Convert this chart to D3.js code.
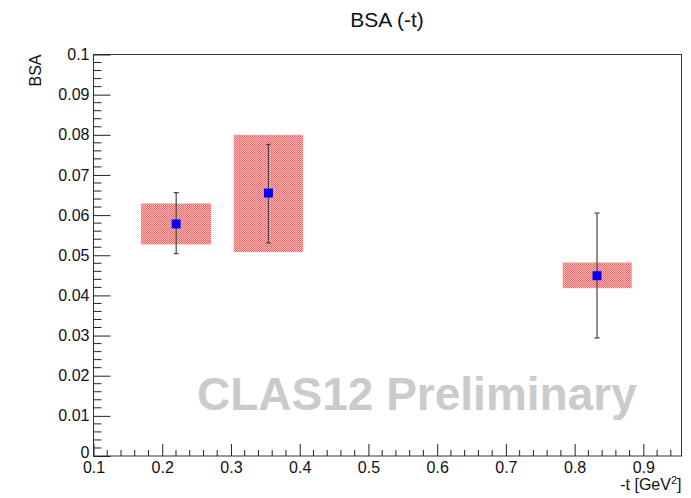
<!DOCTYPE html>
<html>
<head>
<meta charset="utf-8">
<script src="https://cdn.jsdelivr.net/npm/d3@7"></script>
<style>
  html, body { margin: 0; padding: 0; background: #fff; }
  svg { display: block; font-family: "Liberation Sans", Arial, Helvetica, sans-serif; }
</style>
</head>
<body>
<svg id="chart" width="691" height="498"></svg>
<script>
// Beam-spin asymmetry vs -t
const tValues    = [0.2203, 0.3545, 0.8326];   // bin centres, GeV^2
const bsaValues  = [0.0578, 0.0655, 0.0449];   // asymmetry
const statErrHi  = [0.0656, 0.0776, 0.0605];   // upper end of stat. error bar
const statErrLo  = [0.0504, 0.0531, 0.0294];   // lower end of stat. error bar
const sysBoxTLo  = [0.169, 0.304, 0.7826];     // systematic box, -t range
const sysBoxTHi  = [0.271, 0.405, 0.883];
const sysBoxYLo  = [0.0527, 0.0508, 0.0418];   // systematic box, BSA range
const sysBoxYHi  = [0.0629, 0.0800, 0.0482];

const xMajorTicks = [0.1, 0.2, 0.3, 0.4, 0.5, 0.6, 0.7, 0.8, 0.9];
const yMajorTicks = [0, 0.01, 0.02, 0.03, 0.04, 0.05, 0.06, 0.07, 0.08, 0.09, 0.1];
const xDomain = [0.1, 0.9555];
const yDomain = [0, 0.1];

const points = tValues.map((t, i) => ({
  t, bsa: bsaValues[i], hi: statErrHi[i], lo: statErrLo[i],
  bx0: sysBoxTLo[i], bx1: sysBoxTHi[i], by0: sysBoxYLo[i], by1: sysBoxYHi[i]
}));

const svg = d3.select("#chart");
const W = 691, H = 498;
const m = { left: 93.5, right: 9.5, top: 54.5, bottom: 42 };
const x = d3.scaleLinear().domain(xDomain).range([m.left, W - m.right]);
const y = d3.scaleLinear().domain(yDomain).range([H - m.bottom, m.top]);

// dotted fill for the systematic boxes
const defs = svg.append("defs");
const pat = defs.append("pattern").attr("id", "sysfill")
  .attr("patternUnits", "userSpaceOnUse").attr("width", 2).attr("height", 2);
pat.append("rect").attr("width", 2).attr("height", 2).attr("fill", "#ffbcbc");
pat.append("rect").attr("x", 0).attr("y", 0).attr("width", 1).attr("height", 1).attr("fill", "#ff6464");
pat.append("rect").attr("x", 1).attr("y", 1).attr("width", 1).attr("height", 1).attr("fill", "#ff6464");

// watermark
svg.append("text")
  .attr("x", 197).attr("y", 410)
  .attr("font-size", 46).attr("font-weight", "bold")
  .attr("fill", "#cbcbcb")
  .text("CLAS12 Preliminary");

// systematic boxes
svg.append("g").selectAll("rect").data(points).join("rect")
  .attr("x", d => x(d.bx0)).attr("width", d => x(d.bx1) - x(d.bx0))
  .attr("y", d => y(d.by1)).attr("height", d => y(d.by0) - y(d.by1))
  .attr("fill", "url(#sysfill)");

// statistical error bars
const eb = svg.append("g").attr("stroke", "#444").attr("stroke-width", 1.2);
eb.selectAll("line.v").data(points).join("line").attr("class", "v")
  .attr("x1", d => x(d.t)).attr("x2", d => x(d.t))
  .attr("y1", d => y(d.hi)).attr("y2", d => y(d.lo));
eb.selectAll("line.ct").data(points).join("line").attr("class", "ct")
  .attr("x1", d => x(d.t) - 2.5).attr("x2", d => x(d.t) + 2.5)
  .attr("y1", d => y(d.hi)).attr("y2", d => y(d.hi));
eb.selectAll("line.cb").data(points).join("line").attr("class", "cb")
  .attr("x1", d => x(d.t) - 2.5).attr("x2", d => x(d.t) + 2.5)
  .attr("y1", d => y(d.lo)).attr("y2", d => y(d.lo));

// markers
const ms = 9;
svg.append("g").selectAll("rect").data(points).join("rect")
  .attr("x", d => x(d.t) - ms / 2).attr("y", d => y(d.bsa) - ms / 2)
  .attr("width", ms).attr("height", ms).attr("fill", "#0000ff");

// frame
svg.append("rect")
  .attr("x", m.left).attr("y", m.top)
  .attr("width", W - m.right - m.left).attr("height", H - m.bottom - m.top)
  .attr("fill", "none").attr("stroke", "#333").attr("stroke-width", 1);

// x axis: major ticks, minor ticks every 0.02
const xAxis = d3.axisBottom(x).tickValues(xMajorTicks)
  .tickSize(-12).tickPadding(17).tickFormat(d3.format(".1f"));
const gx = svg.append("g").attr("transform", `translate(0,${H - m.bottom})`).call(xAxis);
const xMinor = d3.range(0.1, 0.95, 0.02).filter(v => Math.abs(v * 10 - Math.round(v * 10)) > 1e-6);
gx.selectAll("line.minor").data(xMinor).join("line").attr("class", "minor")
  .attr("x1", d => x(d)).attr("x2", d => x(d)).attr("y1", 0).attr("y2", -6)
  .attr("stroke", "#222");

// y axis: major ticks, minor ticks every 0.002
const yAxis = d3.axisLeft(y).tickValues(yMajorTicks)
  .tickSize(-17).tickPadding(21)
  .tickFormat(d => d === 0 ? "0" : d3.format("~g")(+d.toFixed(2)));
const gy = svg.append("g").attr("transform", `translate(${m.left},0)`).call(yAxis);
const yMinor = d3.range(0, 0.1, 0.002).filter(v => Math.abs(v * 100 - Math.round(v * 100)) > 1e-6);
gy.selectAll("line.minor").data(yMinor).join("line").attr("class", "minor")
  .attr("y1", d => y(d)).attr("y2", d => y(d)).attr("x1", 0).attr("x2", 8)
  .attr("stroke", "#222");

[gx, gy].forEach(g => {
  g.select(".domain").remove();
  g.selectAll(".tick line").attr("stroke", "#222");
  g.selectAll(".tick text").attr("fill", "#111").attr("font-size", 16)
    .attr("font-family", "Liberation Sans, Arial, sans-serif");
});
gx.selectAll(".tick text").attr("dy", "0.71em").attr("y", 6);
gy.selectAll(".tick text").attr("x", -4).attr("dy", "0.32em");
// keep the origin label clear of the first x label
gy.selectAll(".tick text").filter(d => d === 0).attr("dy", "0.12em");

// title and axis titles
svg.append("text").attr("x", 387).attr("y", 27).attr("text-anchor", "middle")
  .attr("font-size", 21).attr("fill", "#111").text("BSA (-t)");

svg.append("text")
  .attr("transform", `translate(41,${m.top}) rotate(-90)`)
  .attr("text-anchor", "end").attr("font-size", 16).attr("fill", "#111").text("BSA");

const xl = svg.append("text").attr("x", W - m.right).attr("y", 490)
  .attr("text-anchor", "end").attr("font-size", 16).attr("fill", "#111");
xl.append("tspan").text("-t [GeV");
xl.append("tspan").attr("dy", -6).attr("font-size", 11).text("2");
xl.append("tspan").attr("dy", 6).text("]");
</script>
</body>
</html>
